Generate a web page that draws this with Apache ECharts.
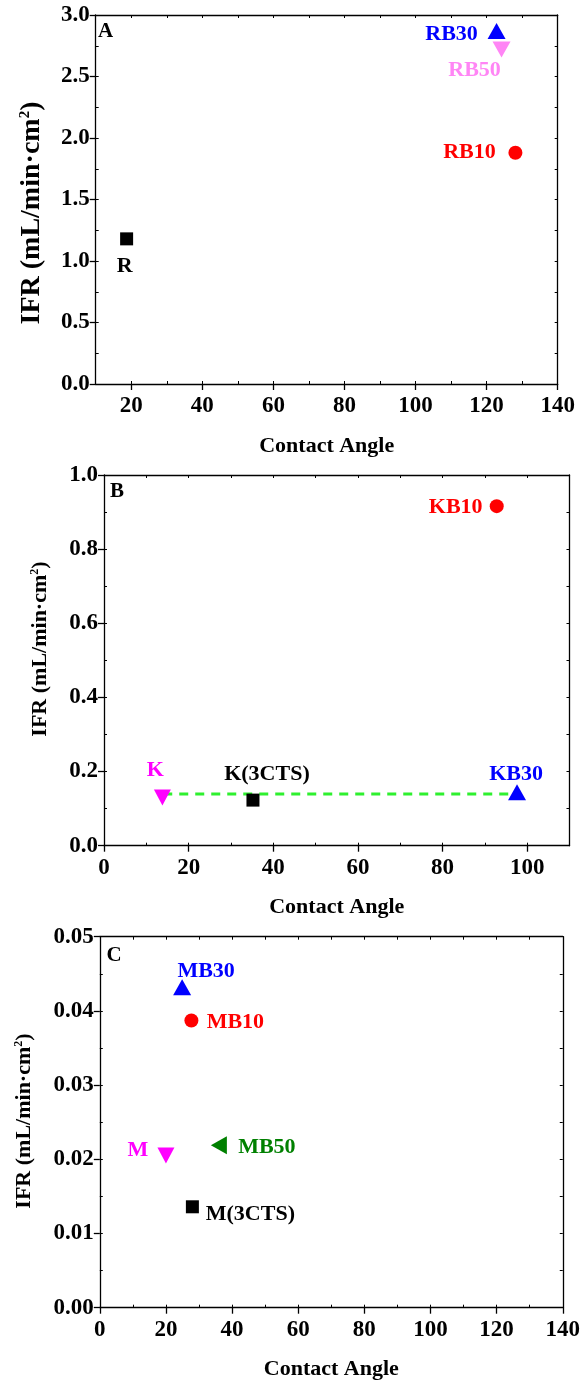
<!DOCTYPE html>
<html>
<head>
<meta charset="utf-8">
<script src="https://cdn.jsdelivr.net/npm/echarts@6/dist/echarts.min.js"></script>
<style>
  html, body { margin: 0; padding: 0; background: #fff; }
  #chart { width: 583px; height: 1383px; }
</style>
</head>
<body>
<div id="chart"></div>
<script>
// ---- Panel A: R series ----
const namesA = ['R', 'RB10', 'RB30', 'RB50'];
const angleA = [18.7, 128.1, 122.8, 124.2];
const ifrA = [1.18, 1.88, 2.87, 2.72];
const xTicksA = [20, 40, 60, 80, 100, 120, 140];

// ---- Panel B: K series ----
const namesB = ['K(3CTS)', 'KB10', 'K', 'KB30'];
const angleB = [35.2, 92.8, 13.8, 97.6];
const ifrB = [0.123, 0.916, 0.130, 0.144];
const xTicksB = [0, 20, 40, 60, 80, 100];
// dashed guide across panel B
const guideAngleB = [14.0, 95.6];
const guideIfrB = [0.1395, 0.1395];

// ---- Panel C: M series ----
const namesC = ['M(3CTS)', 'MB10', 'MB30', 'M', 'MB50'];
const angleC = [28.0, 27.7, 24.9, 20.0, 36.0];
const ifrC = [0.0136, 0.0387, 0.0432, 0.0205, 0.0219];
const xTicksC = [0, 20, 40, 60, 80, 100, 120, 140];

// marker look and label placement for each sample
const FONT = 'Liberation Serif';
const markStyle = {
  'R':       { symbol: 'rect', size: 13, rot: 0, color: '#000000', off: [-2, 27] },
  'RB10':    { symbol: 'circle', size: 14, rot: 0, color: '#ff0000', off: [-46, 0] },
  'RB30':    { symbol: 'triangle', size: [18, 16], rot: 0, color: '#0000ff', off: [-45, 3] },
  'RB50':    { symbol: 'triangle', size: [18, 16], rot: 180, color: '#ff85f5', off: [-27, 21] },
  'K(3CTS)': { symbol: 'rect', size: 13, rot: 0, color: '#000000', off: [14, -26] },
  'KB10':    { symbol: 'circle', size: 14, rot: 0, color: '#ff0000', off: [-41, 1] },
  'K':       { symbol: 'triangle', size: [17, 16], rot: 180, color: '#ff00ff', off: [-7, -27] },
  'KB30':    { symbol: 'triangle', size: [18, 16], rot: 0, color: '#0000ff', off: [-1, -18] },
  'M(3CTS)': { symbol: 'rect', size: 13, rot: 0, color: '#000000', off: [58, 8] },
  'MB10':    { symbol: 'circle', size: 14, rot: 0, color: '#ff0000', off: [44, 2] },
  'MB30':    { symbol: 'triangle', size: [18, 16], rot: 0, color: '#0000ff', off: [24, -16] },
  'M':       { symbol: 'triangle', size: [17, 16], rot: 180, color: '#ff00ff', off: [-28, -5] },
  'MB50':    { symbol: 'triangle', size: [18, 16], rot: 90, color: '#008000', off: [48, 2] }
};

const grids = [
  { left: 95.7, top: 15, width: 462, height: 369 },
  { left: 104, top: 475, width: 465.5, height: 370.7 },
  { left: 99.8, top: 936.7, width: 469.2, height: 371 }
];

const axisBlack = { color: '#000', width: 1.3 };
const tickFont = { color: '#000', fontFamily: FONT, fontWeight: 'bold', fontSize: 23 };

// three x axes per grid: labelled bottom axis, inner minor ticks, top frame
function xAxesFor(gi, min, max, minorStep, labels) {
  return [
    {
      type: 'value', gridIndex: gi, position: 'bottom', min: min, max: max, interval: minorStep,
      splitLine: { show: false },
      axisLine: { show: true, onZero: false, lineStyle: axisBlack },
      axisTick: { show: true, length: 6, customValues: labels, lineStyle: axisBlack },
      axisLabel: Object.assign({ margin: 11, customValues: labels }, tickFont),
      name: 'Contact Angle', nameLocation: 'middle', nameGap: 51,
      nameTextStyle: { color: '#000', fontFamily: FONT, fontWeight: 'bold', fontSize: 22 }
    },
    {
      type: 'value', gridIndex: gi, position: 'bottom', min: min, max: max, interval: minorStep,
      splitLine: { show: false }, axisLine: { show: false },
      axisTick: { show: true, inside: true, length: 3, lineStyle: { color: '#000', width: 1 } },
      axisLabel: { show: false }
    },
    {
      type: 'value', gridIndex: gi, position: 'top', min: min, max: max, interval: minorStep,
      splitLine: { show: false },
      axisLine: { show: true, onZero: false, lineStyle: axisBlack },
      axisTick: { show: true, inside: true, length: 3, lineStyle: { color: '#000', width: 1 } },
      axisLabel: { show: false }
    }
  ];
}

function yAxesFor(gi, max, step, minorStep, digits) {
  return [
    {
      type: 'value', gridIndex: gi, position: 'left', min: 0, max: max, interval: step,
      splitLine: { show: false },
      axisLine: { show: true, onZero: false, lineStyle: axisBlack },
      axisTick: { show: true, length: 6, lineStyle: axisBlack },
      axisLabel: Object.assign({ margin: 6, formatter: v => v.toFixed(digits) }, tickFont)
    },
    {
      type: 'value', gridIndex: gi, position: 'left', min: 0, max: max, interval: minorStep,
      splitLine: { show: false }, axisLine: { show: false },
      axisTick: { show: true, inside: true, length: 3, lineStyle: { color: '#000', width: 1 } },
      axisLabel: { show: false }
    },
    {
      type: 'value', gridIndex: gi, position: 'right', min: 0, max: max, interval: minorStep,
      splitLine: { show: false },
      axisLine: { show: true, onZero: false, lineStyle: axisBlack },
      axisTick: { show: true, inside: true, length: 3, lineStyle: { color: '#000', width: 1 } },
      axisLabel: { show: false }
    }
  ];
}

function pointSeries(gi, names, xs, ys) {
  return names.map((n, i) => {
    const s = markStyle[n];
    return {
      type: 'scatter', name: n, xAxisIndex: gi * 3, yAxisIndex: gi * 3,
      symbol: s.symbol, symbolSize: s.size, symbolRotate: s.rot,
      itemStyle: { color: s.color, opacity: 1 },
      label: {
        show: true, position: 'inside', offset: s.off, formatter: n,
        color: s.color, fontFamily: FONT, fontWeight: 'bold', fontSize: 22
      },
      emphasis: { disabled: true },
      z: 5,
      data: [[xs[i], ys[i]]]
    };
  });
}

const series = [
  {
    type: 'line', name: 'guide', xAxisIndex: 3, yAxisIndex: 3,
    data: guideAngleB.map((x, i) => [x, guideIfrB[i]]),
    showSymbol: false, symbol: 'none',
    lineStyle: { color: '#2ef02e', width: 3, type: [9, 7] },
    z: 3
  }
].concat(
  pointSeries(0, namesA, angleA, ifrA),
  pointSeries(1, namesB, angleB, ifrB),
  pointSeries(2, namesC, angleC, ifrC)
);

const titleFont = (size) => ({
  text: 'IFR (mL/min·cm{sup|2})',
  font: 'bold ' + size + 'px "' + FONT + '"',
  fill: '#000', align: 'center', verticalAlign: 'middle',
  rich: { sup: { fontSize: Math.round(size * 0.55), fontFamily: FONT, fontWeight: 'bold', verticalAlign: 'top', padding: [0, 0, Math.round(size * 0.35), 0] } }
});

const option = {
  animation: false,
  backgroundColor: '#ffffff',
  grid: grids,
  xAxis: [].concat(
    xAxesFor(0, 10, 140, 10, xTicksA),
    xAxesFor(1, 0, 110, 10, xTicksB),
    xAxesFor(2, 0, 140, 10, xTicksC)
  ),
  yAxis: [].concat(
    yAxesFor(0, 3.0, 0.5, 0.25, 1),
    yAxesFor(1, 1.0, 0.2, 0.1, 1),
    yAxesFor(2, 0.05, 0.01, 0.005, 2)
  ),
  graphic: [
    { type: 'text', x: 32, y: 213, rotation: Math.PI / 2, style: titleFont(28) },
    { type: 'text', x: 40, y: 649, rotation: Math.PI / 2, style: titleFont(22) },
    { type: 'text', x: 24, y: 1121, rotation: Math.PI / 2, style: titleFont(22) },
    { type: 'text', x: 105.5, y: 31.7, style: { text: 'A', font: 'bold 21px "' + FONT + '"', fill: '#000', align: 'center', verticalAlign: 'middle' } },
    { type: 'text', x: 117, y: 492, style: { text: 'B', font: 'bold 21px "' + FONT + '"', fill: '#000', align: 'center', verticalAlign: 'middle' } },
    { type: 'text', x: 114, y: 956, style: { text: 'C', font: 'bold 21px "' + FONT + '"', fill: '#000', align: 'center', verticalAlign: 'middle' } }
  ],
  series: series
};

const chart = echarts.init(document.getElementById('chart'), null, { renderer: 'canvas' });
chart.setOption(option);
</script>
</body>
</html>
